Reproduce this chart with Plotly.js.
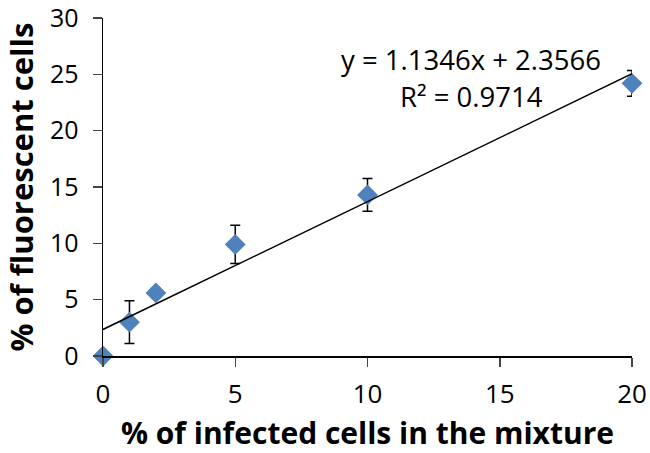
<!DOCTYPE html>
<html>
<head>
<meta charset="utf-8">
<script src="https://cdn.plot.ly/plotly-3.0.1.min.js"></script>
<style>html,body{margin:0;padding:0;background:#fff;}#chart{width:650px;height:453px;}</style>
</head>
<body>
<div id="chart"></div>
<script>
const infected = [0, 1, 2, 5, 10, 20];
const fluorescent = [0, 3.0, 5.6, 9.9, 14.3, 24.2];
const errors = [0, 1.9, 0.4, 1.7, 1.45, 1.15];
const slope = 1.1346;
const intercept = 2.3566;
const fitX = [0, 20];
const xTicks = [0, 5, 10, 15, 20];
const yTicks = [0, 5, 10, 15, 20, 25, 30];
const equationText = "y = 1.1346x + 2.3566";
const r2Text = "R² = 0.9714";

const font = "Open Sans, Noto Sans, sans-serif";

const traces = [
  {
    x: infected, y: fluorescent, type: "scatter", mode: "markers",
    marker: {symbol: "diamond", size: 16, color: "#4F81BD"},
    error_y: {type: "data", array: errors, visible: true, color: "#000", thickness: 1.5, width: 5},
    cliponaxis: false, showlegend: false
  },
  {
    x: fitX, y: fitX.map(v => slope * v + intercept), type: "scatter", mode: "lines",
    line: {color: "#000", width: 1.5}, showlegend: false, cliponaxis: false
  }
];

const layout = {
  width: 650, height: 453,
  margin: {l: 103, r: 18, t: 18, b: 97},
  paper_bgcolor: "#fff", plot_bgcolor: "#fff",
  font: {family: font, color: "#000"},
  xaxis: {
    range: [0, 20], tickvals: xTicks, ticks: "outside", ticklen: 9, tickwidth: 1.5,
    showline: true, linecolor: "#000", linewidth: 1.5, showgrid: false, zeroline: false,
    tickfont: {size: 26, family: font}, ticklabelstandoff: 5, ticklabeloverflow: "allow",
    title: {text: "<b>% of infected cells in the mixture</b>", font: {size: 30, family: font}, standoff: 20}
  },
  yaxis: {
    range: [0, 30], tickvals: yTicks, ticks: "outside", ticklen: 9, tickwidth: 1.5,
    showline: true, linecolor: "#000", linewidth: 1.5, showgrid: false, zeroline: false,
    tickfont: {size: 25, family: font}, ticklabelstandoff: 9, ticklabeloverflow: "allow",
    title: {text: "<b>% of fluorescent cells</b>", font: {size: 31, family: font}, standoff: 9}
  },
  annotations: [
    {x: 0.696, y: 26.3, xref: "paper", yref: "y", xanchor: "center", yanchor: "middle", text: equationText, showarrow: false, font: {size: 27.5, family: font}},
    {x: 0.697, y: 23.0, xref: "paper", yref: "y", xanchor: "center", yanchor: "middle", text: r2Text, showarrow: false, font: {size: 27.5, family: font}}
  ]
};

Plotly.newPlot("chart", traces, layout, {staticPlot: true, displayModeBar: false});
</script>
</body>
</html>
